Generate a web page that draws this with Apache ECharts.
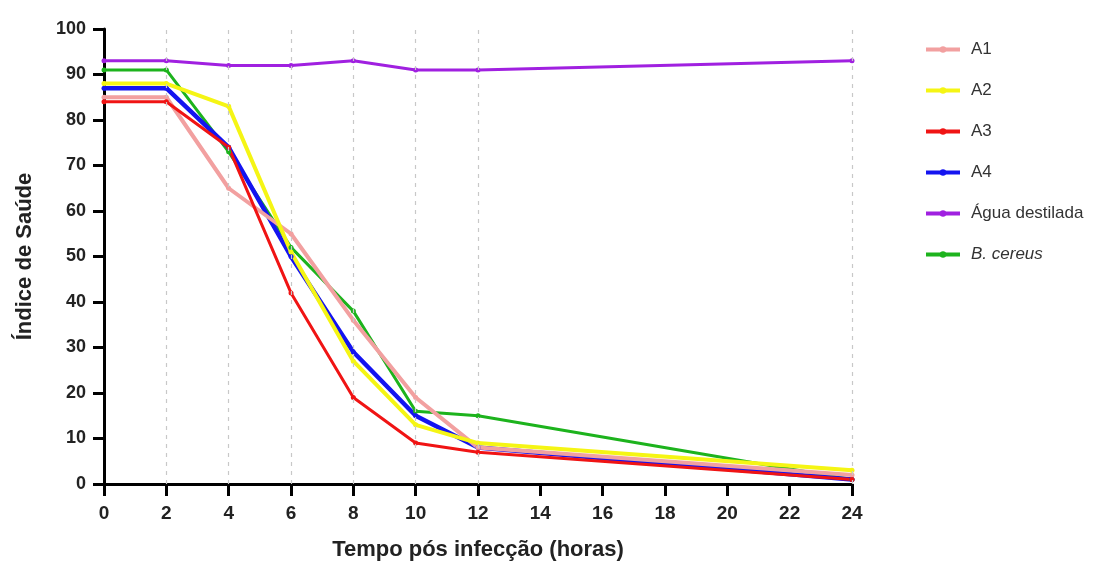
<!DOCTYPE html>
<html lang="pt">
    <head>
        <meta charset="utf-8" />
        <title>Índice de Saúde</title>
        <style type="text/css">
            html, body { margin: 0; padding: 0; background: #fff; }
            #chart { width: 1102px; height: 565px; }
        </style>
    </head>
    <body>
        <div id="chart"></div>
        <script src="https://cdn.jsdelivr.net/npm/echarts@6.0.0/dist/echarts.min.js"></script>
        <script>
            // horas
            const hours = [0, 2, 4, 6, 8, 10, 12, 24];
            const gridHours = [2, 4, 6, 8, 10, 12, 24];

            const a1 = [85, 85, 65, 55, 36, 19, 8, 2];
            const a2 = [88, 88, 83, 51, 27, 13, 9, 3];
            const a3 = [84, 84, 74, 42, 19, 9, 7, 1];
            const a4 = [87, 87, 74, 50, 29, 15, 8, 1];
            const agua = [93, 93, 92, 92, 93, 91, 91, 93];
            const cereus = [91, 91, 73, 52, 38, 16, 15, 1];

            const pair = (vals) => hours.map((h, i) => [h, vals[i]]);

            const chart = echarts.init(document.querySelector('#chart'));

            const mkSeries = (name, vals, color, width) => ({
                name: name,
                type: 'line',
                data: pair(vals),
                symbol: 'circle',
                symbolSize: 5,
                itemStyle: { color: color },
                lineStyle: { color: color, width: width },
                emphasis: { disabled: true }
            });

            const option = {
                animation: false,
                grid: { left: 104, right: 250, top: 29, bottom: 81, outerBoundsMode: 'none' },
                legend: {
                    orient: 'vertical',
                    left: 919,
                    top: 36,
                    itemGap: 24,
                    itemWidth: 34,
                    itemHeight: 8,
                    lineStyle: { width: 4 },
                    itemStyle: { borderWidth: 0 },
                    textStyle: {
                        fontFamily: 'Liberation Sans',
                        fontSize: 17,
                        color: '#333',
                        padding: [0, 0, 0, 6],
                        rich: {
                            i: { fontStyle: 'italic', fontFamily: 'Liberation Sans', fontSize: 17, color: '#333' }
                        }
                    },
                    formatter: (n) => n === 'B. cereus' ? '{i|B. cereus}' : n,
                    data: ['A1', 'A2', 'A3', 'A4', 'Água destilada', 'B. cereus']
                },
                xAxis: {
                    type: 'value',
                    min: 0,
                    max: 24,
                    interval: 2,
                    name: 'Tempo pós infecção (horas)',
                    nameLocation: 'middle',
                    nameGap: 55,
                    nameTextStyle: { fontFamily: 'Liberation Sans', fontWeight: 'bold', fontSize: 22, color: '#222' },
                    axisLine: { lineStyle: { color: '#000', width: 3 } },
                    axisTick: { length: 12, lineStyle: { color: '#000', width: 3 } },
                    axisLabel: { fontFamily: 'Liberation Sans', fontWeight: 'bold', fontSize: 19, color: '#222', margin: 20 },
                    splitLine: { show: false }
                },
                yAxis: {
                    type: 'value',
                    min: 0,
                    max: 100,
                    interval: 10,
                    name: 'Índice de Saúde',
                    nameLocation: 'middle',
                    nameGap: 68,
                    nameTextStyle: { fontFamily: 'Liberation Sans', fontWeight: 'bold', fontSize: 22, color: '#222' },
                    axisLine: { show: true, lineStyle: { color: '#000', width: 3 } },
                    axisTick: { show: true, length: 11, lineStyle: { color: '#000', width: 3 } },
                    axisLabel: { fontFamily: 'Liberation Sans', fontWeight: 'bold', fontSize: 18, color: '#222', margin: 18 },
                    splitLine: { show: false }
                },
                series: [
                    {
                        name: 'grade',
                        type: 'line',
                        data: [],
                        silent: true,
                        markLine: {
                            silent: true,
                            symbol: 'none',
                            label: { show: false },
                            lineStyle: { color: '#c8c8c8', type: [4, 5], width: 1.2 },
                            data: gridHours.map((h) => ({ xAxis: h }))
                        }
                    },
                    mkSeries('B. cereus', cereus, '#1db31d', 3),
                    mkSeries('Água destilada', agua, '#a020e0', 3),
                    mkSeries('A4', a4, '#1414f0', 4.5),
                    mkSeries('A1', a1, '#f2a0a0', 4),
                    mkSeries('A2', a2, '#f5f514', 4),
                    mkSeries('A3', a3, '#f01414', 3)
                ]
            };

            chart.setOption(option);
        </script>
    </body>
</html>
